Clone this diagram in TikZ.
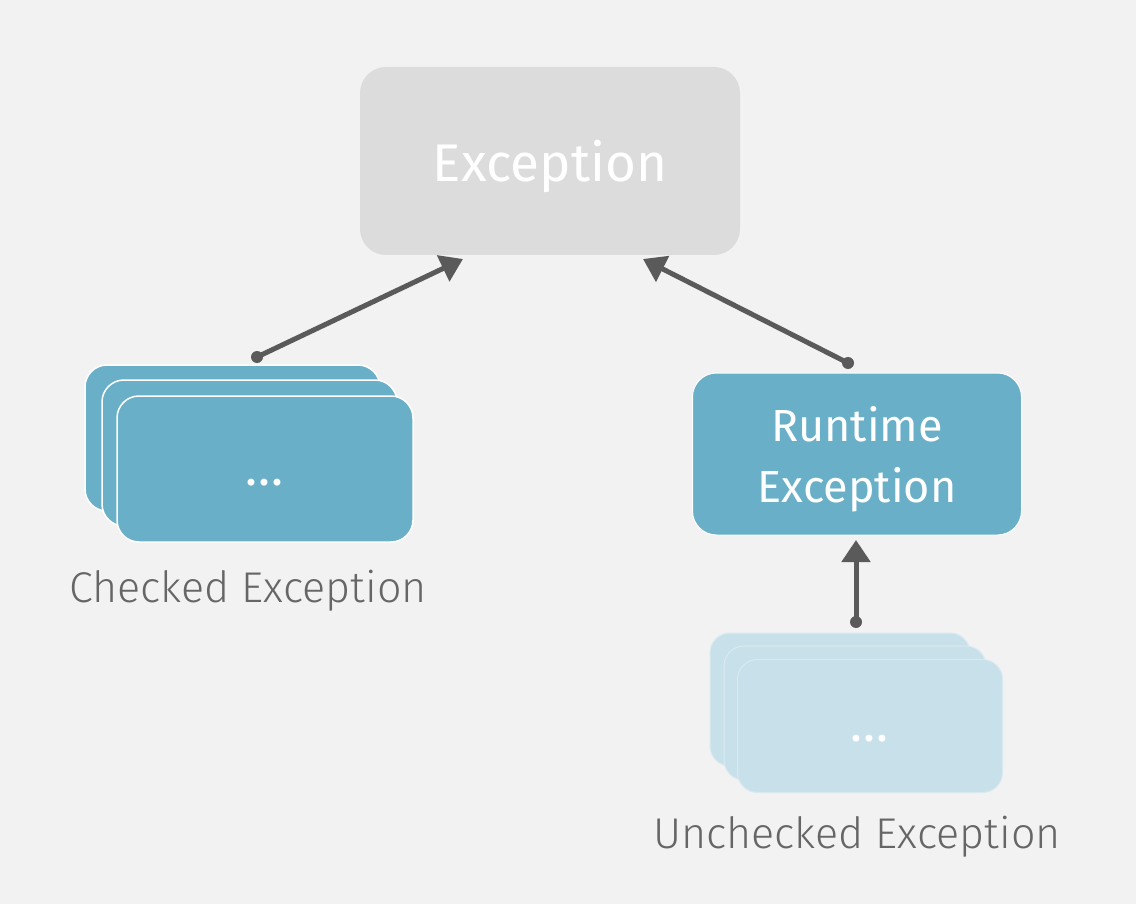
\documentclass[tikz,border=0pt]{standalone}
\usepackage{fontspec}
\setmainfont{Fira Sans}
\newfontfamily\lightfont{Fira Sans Light}
\usetikzlibrary{arrows.meta}
\definecolor{bg}{HTML}{F2F2F2}
\definecolor{topgray}{HTML}{DCDCDC}
\definecolor{cardblue}{HTML}{6AAFC8}
\definecolor{cardlight}{HTML}{C8E0EA}
\definecolor{arrowgray}{HTML}{5A5A5A}
\definecolor{labelgray}{HTML}{666666}
\newcommand{\threedots}{.\kern1pt.\kern1pt.}
\tikzset{
  card/.style={draw=white, line width=1.5pt, rounded corners=22pt, fill=cardblue},
  lightcard/.style={draw=cardlight!70!white, line width=1pt, rounded corners=20pt, fill=cardlight},
  dots/.style={text=white, font=\fontsize{50}{54}\selectfont, inner sep=0pt},
  dotnode/.style={circle, fill=arrowgray, inner sep=0pt, minimum size=12pt},
  link/.style={draw=arrowgray, line width=5pt, -{Triangle[length=22pt,width=28pt]}},
  caption/.style={text=labelgray, font=\lightfont\fontsize{43}{48}\selectfont}
}
\begin{document}
\begin{tikzpicture}[x=1pt, y=-1pt]
\fill[bg] (0,0) rectangle (1136,904);
\useasboundingbox (0,0) rectangle (1136,904);
\node[rounded corners=26pt, fill=topgray, minimum width=380pt, minimum height=188pt, text=white, text depth=0pt, font=\fontsize{53}{60}\selectfont] (exc) at (550,161){Exception};
\draw[card] (85,365) rectangle (380,511);
\draw[card] (102,380) rectangle (397,526);
\node[card, minimum width=296pt, minimum height=146pt] (chk) at (265,469){};
\node[dots] (chkdots) at (264,483){\threedots};
\node[caption] (chklabel) at (248,591){Checked Exception};
\node[card, rounded corners=24pt, line width=1pt, minimum width=329pt, minimum height=162pt, text=white, align=center, text depth=0pt, font=\fontsize{45}{61}\selectfont] (rte) at (857,454){Runtime\\Exception};
\draw[lightcard] (710,633) rectangle (970,766);
\draw[lightcard] (724,646) rectangle (986,780);
\node[lightcard, minimum width=265pt, minimum height=133pt] (unc) at (870,726){};
\node[dots] (uncdots) at (869,739){\threedots};
\node[caption] (unclabel) at (857,837){Unchecked Exception};
\node[dotnode] (c1) at (257,357){};
\coordinate (c2) at (463,259);
\node[dotnode] (r1) at (848,363){};
\coordinate (r2) at (643,259);
\node[dotnode] (u1) at (856,622){};
\coordinate (u2) at (856,540);
\draw[link] (c1.center) -- (c2);
\draw[link] (r1.center) -- (r2);
\draw[link] (u1.center) -- (u2);
\end{tikzpicture}
\end{document}
